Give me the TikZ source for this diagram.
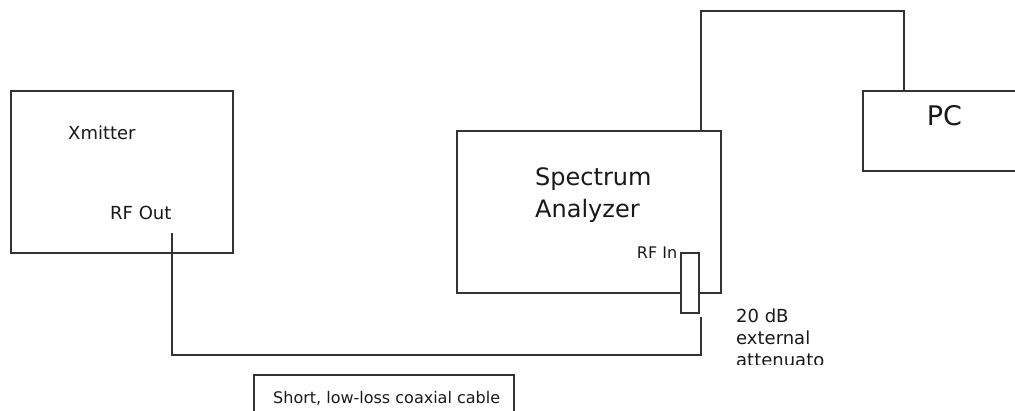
\documentclass[tikz,border=0pt]{standalone}
\usepackage{fontspec}
\setmainfont{DejaVu Sans}
\usepackage{xcolor}

\begin{document}
\begin{tikzpicture}[x=1pt, y=-1pt,
    box/.style={draw=black!80, line width=1.9pt, inner sep=0pt},
    wire/.style={draw=black!80, line width=1.9pt},
    lbl/.style={inner sep=0pt, text=black!90, anchor=base west}]
    \clip (0,0) rectangle (1015,411);
    \node[box, minimum width=222pt, minimum height=162pt] (xmitter) at (121.8,171.7) {};
    \node[box, minimum width=264pt, minimum height=162pt] (analyzer) at (588.6,211.9) {};
    \node[box, minimum width=170pt, minimum height=80pt] (pc) at (947.7,130.9) {};
    \node[box, minimum width=260pt, minimum height=60pt] (cablenote) at (384,405) {};
    \node[box, fill=white, minimum width=18pt, minimum height=60pt] (atten) at (689.7,282.9) {};
    \node[lbl, font=\fontsize{18}{22}\selectfont] (xmlabel) at (68,140) {Xmitter};
    \node[lbl, font=\fontsize{18}{22}\selectfont] (rfout) at (110,220) {RF Out};
    \node[lbl, font=\fontsize{16}{20}\selectfont] (rfin) at (636.7,258.3) {RF In};
    \node[lbl, anchor=north west, align=left, font=\fontsize{24}{32}\selectfont] (salabel) at (535,167) {Spectrum\\Analyzer};
    \node[lbl, font=\fontsize{27}{32}\selectfont] (pclabel) at (926.7,126) {PC};
    \node[lbl, font=\fontsize{16}{20}\selectfont] (cablelabel) at (273,403.3) {Short, low-loss coaxial cable};
    \begin{scope}
        \clip (730,300) rectangle (840,365);
        \node[lbl, anchor=north west, align=left, font=\fontsize{18}{22}\selectfont] (attenlabel) at (736,309) {20 dB\\external\\attenuato};
    \end{scope}
    \coordinate (rfport) at (172,233);
    \coordinate (atport) at (701,317);
    \coordinate (saport) at (700.7,131);
    \coordinate (pcport) at (904,90.7);
    \draw[wire] (rfport) -- ++(0,122) -| (atport);
    \draw[wire] (saport) -- ++(0,-120) -| (pcport);
\end{tikzpicture}
\end{document}
